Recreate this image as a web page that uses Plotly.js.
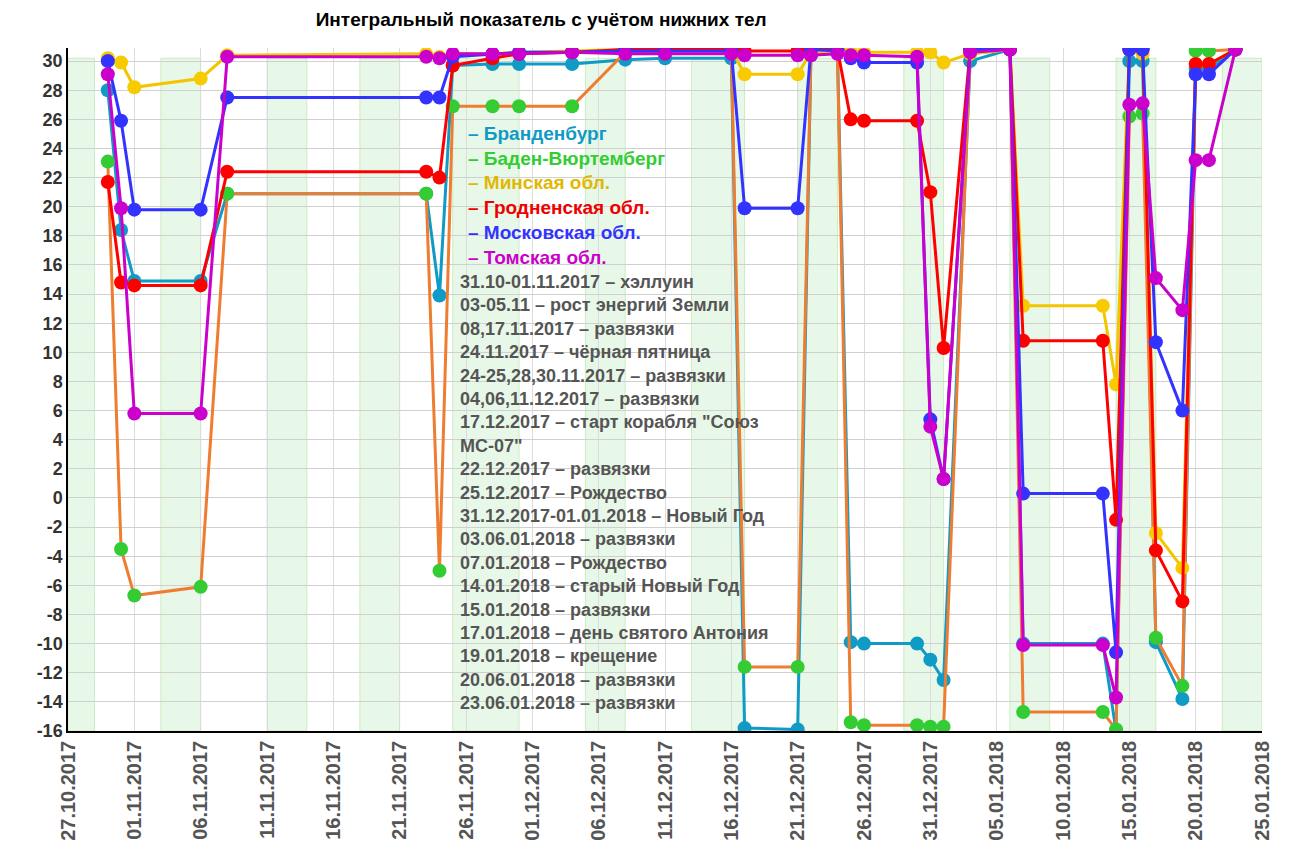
<!DOCTYPE html>
<html>
<head>
<meta charset="utf-8">
<script src="https://cdn.plot.ly/plotly-3.0.1.min.js"></script>
<style>body{margin:0;background:#fff}#chart{width:1304px;height:862px}</style>
</head>
<body>
<div id="chart"></div>
<script>
var dates = ['2017-10-30','2017-10-31','2017-11-01','2017-11-06','2017-11-08','2017-11-23','2017-11-24','2017-11-25',
  '2017-11-28','2017-11-30','2017-12-04','2017-12-08','2017-12-11','2017-12-16','2017-12-17','2017-12-21','2017-12-22',
  '2017-12-24','2017-12-25','2017-12-26','2017-12-30','2017-12-31','2018-01-01','2018-01-03','2018-01-06','2018-01-07',
  '2018-01-13','2018-01-14','2018-01-15','2018-01-16','2018-01-17','2018-01-19','2018-01-20','2018-01-21','2018-01-23'];

var brandenburg = [28.0,18.4,14.9,14.9,20.9,20.9,13.9,29.7,29.8,29.8,29.8,30.1,30.2,30.2,-15.8,-15.9,30.4,30.6,-9.9,-10.0,
  -10.0,-11.1,-12.5,30.0,30.8,-10.0,-10.0,-16.0,30.0,30.0,-9.9,-13.8,29.5,29.5,30.8];
var baden = [23.1,-3.5,-6.7,-6.1,20.9,20.9,-5.0,26.9,26.9,26.9,26.9,30.6,30.7,30.7,-11.6,-11.6,30.5,30.6,-15.4,-15.6,
  -15.6,-15.7,-15.7,30.5,30.8,-14.7,-14.7,-15.9,26.2,26.4,-9.6,-12.9,30.7,30.7,30.8];
var minsk = [30.2,29.9,28.2,28.8,30.4,30.5,30.3,30.5,30.5,30.6,30.7,30.8,30.8,30.8,29.1,29.1,30.6,30.7,30.7,30.6,
  30.6,30.6,29.9,30.5,30.8,13.2,13.2,7.8,30.8,30.5,-2.4,-4.8,29.8,29.8,30.8];
var grodno = [21.7,14.8,14.6,14.6,22.4,22.4,22.0,29.7,30.2,30.5,30.6,30.8,30.8,30.8,30.7,30.7,30.8,30.8,26.0,25.9,
  25.9,21.0,10.3,30.8,30.8,10.8,10.8,-1.5,30.8,30.8,-3.6,-7.1,29.8,29.8,30.8];
var moscow = [30.0,25.9,19.8,19.8,27.5,27.5,27.5,30.3,30.5,30.6,30.6,30.7,30.7,30.7,19.9,19.9,30.8,30.7,30.2,29.9,
  29.9,5.4,1.3,30.8,30.8,0.3,0.3,-10.6,30.8,30.8,10.7,6.0,29.1,29.1,30.8];
var tomsk = [29.1,19.9,5.8,5.8,30.3,30.3,30.2,30.5,30.5,30.5,30.6,30.5,30.5,30.5,30.4,30.4,30.4,30.5,30.4,30.4,
  30.3,4.9,1.3,30.6,30.8,-10.1,-10.1,-13.7,27.0,27.1,15.1,12.9,23.2,23.2,30.8];

var bandStart = ['2017-10-27','2017-11-03','2017-11-11','2017-11-18','2017-11-25','2017-12-05','2017-12-13','2017-12-21',
  '2017-12-29','2018-01-06','2018-01-14','2018-01-22'];
var bandEnd = ['2017-10-29','2017-11-06','2017-11-14','2017-11-21','2017-11-30','2017-12-08','2017-12-17','2017-12-24',
  '2018-01-01','2018-01-09','2018-01-17','2018-01-25'];

var events = ['31.10-01.11.2017 – хэллуин','03-05.11 – рост энергий Земли','08,17.11.2017 – развязки',
  '24.11.2017 – чёрная пятница','24-25,28,30.11.2017 – развязки','04,06,11.12.2017 – развязки',
  '17.12.2017 – старт корабля "Союз<br>МС-07"','22.12.2017 – развязки','25.12.2017 – Рождество',
  '31.12.2017-01.01.2018 – Новый Год','03.06.01.2018 – развязки','07.01.2018 – Рождество',
  '14.01.2018 – старый Новый Год','15.01.2018 – развязки','17.01.2018 – день святого Антония',
  '19.01.2018 – крещение','20.06.01.2018 – развязки','23.06.01.2018 – развязки'];

var series = [
  {name:'Бранденбург', y:brandenburg, line:'#109ac6', marker:'#109ac6', text:'#109ac6'},
  {name:'Баден-Вюртемберг', y:baden, line:'#ee7d31', marker:'#33cc33', text:'#33cc33'},
  {name:'Минская обл.', y:minsk, line:'#f2c500', marker:'#f7cb00', text:'#e0b800'},
  {name:'Гродненская обл.', y:grodno, line:'#ff0000', marker:'#ff0000', text:'#ee0000'},
  {name:'Московская обл.', y:moscow, line:'#3333ff', marker:'#3333ff', text:'#3333ff'},
  {name:'Томская обл.', y:tomsk, line:'#cc00cc', marker:'#cc00cc', text:'#cc00cc'}
];

var traces = series.map(function (s) {
  return {x: dates, y: s.y, type: 'scatter', mode: 'lines+markers', name: s.name,
    line: {color: s.line, width: 3}, marker: {color: s.marker, size: 14}};
});

var legendText = series.map(function (s) {
  return '<span style="color:' + s.text + '">– ' + s.name + '</span>';
}).join('<br>');

var shapes = bandStart.map(function (b, i) {
  return {type: 'rect', xref: 'x', yref: 'paper', x0: b, x1: bandEnd[i], y0: 0, y1: 0.985,
    fillcolor: 'rgba(190,235,190,0.35)', line: {color: 'rgba(180,225,160,0.6)', width: 1}, layer: 'below'};
});

var yt = [-16,-14,-12,-10,-8,-6,-4,-2,0,2,4,6,8,10,12,14,16,18,20,22,24,26,28,30];

var layout = {
  width: 1304, height: 862,
  margin: {l: 68, r: 42, t: 48, b: 131},
  paper_bgcolor: '#fff', plot_bgcolor: '#fff',
  showlegend: false,
  font: {family: 'Liberation Sans, Arial, sans-serif'},
  title: {text: '<b>Интегральный показатель с учётом нижних тел</b>', x: 0.415, xanchor: 'center', y: 0.985,
    font: {size: 19, color: '#000'}},
  xaxis: {type: 'date', range: ['2017-10-27', '2018-01-25'], tickvals: ['2017-10-27','2017-11-01','2017-11-06',
    '2017-11-11','2017-11-16','2017-11-21','2017-11-26','2017-12-01','2017-12-06','2017-12-11','2017-12-16',
    '2017-12-21','2017-12-26','2017-12-31','2018-01-05','2018-01-10','2018-01-15','2018-01-20','2018-01-25'],
    tickformat: '<b>%d.%m.%Y</b>', tickangle: -90, tickfont: {size: 20, color: '#555'},
    showgrid: true, gridcolor: '#dcdcdc', showline: true, linecolor: '#000', linewidth: 1.5, zeroline: false},
  yaxis: {range: [-16, 30.9], tickvals: yt, ticktext: yt.map(function (v) { return '<b>' + v + '</b>'; }),
    tickfont: {size: 18, color: '#333'}, showgrid: true, gridcolor: '#d0d0d0', showline: true, linecolor: '#000',
    linewidth: 1.5, zeroline: false, ticks: '', ticklen: 0},
  shapes: shapes,
  annotations: [
    {xref: 'paper', yref: 'paper', x: 0.333, y: 0.893, xanchor: 'left', yanchor: 'top', align: 'left', showarrow: false,
      text: '<b>' + legendText + '</b>', font: {size: 19}},
    {xref: 'paper', yref: 'paper', x: 0.327, y: 0.675, xanchor: 'left', yanchor: 'top', align: 'left', showarrow: false,
      text: '<b>' + events.join('<br>') + '</b>', font: {size: 18, color: '#555'}}
  ]
};

Plotly.newPlot('chart', traces, layout, {displayModeBar: false});
</script>
</body>
</html>
